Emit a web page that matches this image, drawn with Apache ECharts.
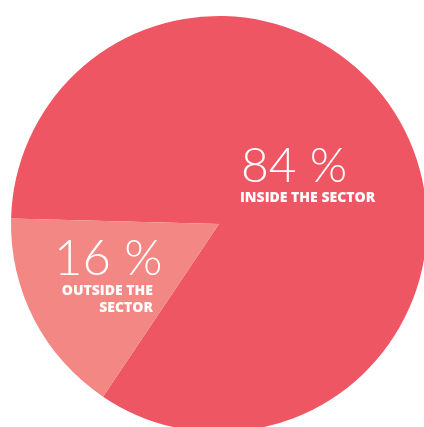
<!DOCTYPE html>
<html>
<head>
<meta charset="utf-8">
<script src="https://cdn.jsdelivr.net/npm/echarts@6/dist/echarts.min.js"></script>
<style>html,body{margin:0;padding:0;background:#fff}#c{width:424px;height:427px}</style>
</head>
<body>
<div id="c"></div>
<script>
var categories = ['INSIDE THE SECTOR', 'OUTSIDE THE SECTOR'];
var values = [84, 16];
var colors = ['#EF5663', '#F28784'];
var chart = echarts.init(document.getElementById('c'), null, {renderer: 'canvas'});
var big = 'Lato, "Open Sans", sans-serif';
var bold = '"Open Sans", Lato, sans-serif';
chart.setOption({
  animation: false,
  series: [{
    type: 'pie',
    silent: true,
    center: [219, 224],
    radius: 208,
    startAngle: 178.5,
    clockwise: true,
    label: {show: false},
    labelLine: {show: false},
    data: categories.map(function (c, i) {
      return {name: c, value: values[i], itemStyle: {color: colors[i]}};
    })
  }],
  graphic: [
    {type: 'text', z: 100, left: 241, top: 143, silent: true, style: {text: values[0] + ' %', fill: '#fff', font: '300 48px ' + big}},
    {type: 'text', z: 100, left: 240, top: 191, silent: true, style: {text: categories[0], fill: '#fff', font: '800 14px ' + bold}},
    {type: 'text', z: 100, left: 54, top: 235, silent: true, style: {text: values[1] + ' %', fill: '#fff', font: '300 49px ' + big}},
    {type: 'text', z: 100, right: 271, top: 283, silent: true, style: {text: 'OUTSIDE THE\nSECTOR', fill: '#fff', font: '800 14px ' + bold, textAlign: 'right', lineHeight: 17}}
  ]
});
</script>
</body>
</html>
